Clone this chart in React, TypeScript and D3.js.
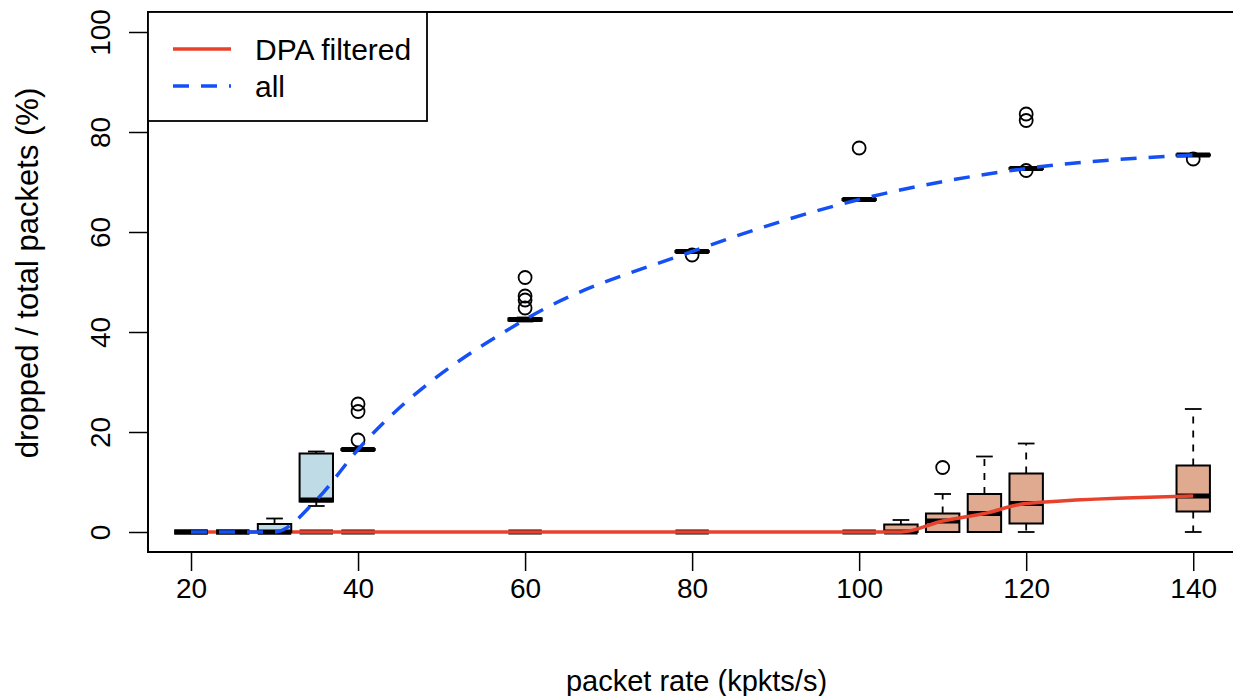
import React, { useEffect, useRef } from 'react';
import * as d3 from 'd3';

const width = 1233;
const height = 696;

// plot frame (R draws the box past the right edge of the picture)
const frame = { left: 148, right: 1245, top: 12, bottom: 552 };

// boxplot stats for "all" packets
const allAt = [20, 25, 30, 35, 40, 60, 80, 100, 120, 140];
const allLow = [0, 0, 0, 5.2, 16.3, 42.1, 55.9, 66.4, 72.6, 75.3];
const allQ1 = [0, 0, 0, 6.1, 16.4, 42.3, 56.0, 66.4, 72.6, 75.3];
const allMed = [0, 0, 0, 6.4, 16.5, 42.5, 56.1, 66.5, 72.7, 75.4];
const allQ3 = [0, 0, 1.6, 15.7, 16.6, 42.7, 56.2, 66.6, 72.8, 75.5];
const allHigh = [0, 0, 2.7, 16.1, 16.7, 42.9, 56.3, 66.7, 72.9, 75.6];
const allOut = [[], [], [], [], [18.4, 24.1, 25.6], [44.8, 46.4, 47.2, 50.9], [55.4], [76.8], [72.3, 82.3, 83.6], [74.6]];

// boxplot stats for "DPA filtered"
const dpaAt = [20, 25, 30, 35, 40, 60, 80, 100, 105, 110, 115, 120, 140];
const dpaLow = [0, 0, 0, 0, 0, 0, 0, 0, 0, 0, 0, 0, 0];
const dpaQ1 = [0, 0, 0, 0, 0, 0, 0, 0, 0, 0, 0, 1.7, 4.1];
const dpaMed = [0, 0, 0, 0, 0, 0, 0, 0, 0, 2.2, 3.7, 5.7, 7.2];
const dpaQ3 = [0, 0, 0, 0, 0, 0, 0, 0, 1.5, 3.7, 7.6, 11.7, 13.3];
const dpaHigh = [0, 0, 0, 0, 0, 0, 0, 0, 2.4, 7.6, 15.1, 17.7, 24.6];
const dpaOut = [[], [], [], [], [], [], [], [], [], [12.9], [], [], []];

const xTicks = [20, 40, 60, 80, 100, 120, 140];
const yTicks = [0, 20, 40, 60, 80, 100];
const legendLabels = ['DPA filtered', 'all'];

const red = '#e8412c';
const blue = '#1550f4';
const font = '"Liberation Sans", Arial, Helvetica, sans-serif';

export default function App() {
    const ref = useRef<SVGSVGElement>(null);

    useEffect(() => {
        document.body.style.margin = '0';
        const svg = d3.select(ref.current);
        svg.selectAll('*').remove();

        const x = d3.scaleLinear().domain([14.85, 146.2]).range([frame.left, frame.right]);
        const y = d3.scaleLinear().domain([-4, 104]).range([frame.bottom, frame.top]);
        const hw = (x(22) - x(20)); // half box width

        const drawBoxes = (at, lo, q1, med, q3, hi, out, fill) => {
            const g = svg.append('g');
            at.forEach((v, i) => {
                const cx = x(v);
                // whiskers
                [[q3[i], hi[i]], [q1[i], lo[i]]].forEach(([a, b]) => {
                    g.append('line')
                        .attr('x1', cx).attr('x2', cx)
                        .attr('y1', y(a)).attr('y2', y(b))
                        .style('stroke', '#000').style('stroke-width', 1.8)
                        .style('stroke-dasharray', '7,7');
                    g.append('line')
                        .attr('x1', cx - hw / 2).attr('x2', cx + hw / 2)
                        .attr('y1', y(b)).attr('y2', y(b))
                        .style('stroke', '#000').style('stroke-width', 1.8);
                });
                g.append('rect')
                    .attr('x', cx - hw).attr('width', hw * 2)
                    .attr('y', y(q3[i])).attr('height', y(q1[i]) - y(q3[i]))
                    .style('fill', fill).style('stroke', '#000').style('stroke-width', 2);
                g.append('line')
                    .attr('x1', cx - hw).attr('x2', cx + hw)
                    .attr('y1', y(med[i])).attr('y2', y(med[i]))
                    .style('stroke', '#000').style('stroke-width', 5);
                out[i].forEach(o => {
                    g.append('circle')
                        .attr('cx', cx).attr('cy', y(o)).attr('r', 6.5)
                        .style('fill', 'none').style('stroke', '#000').style('stroke-width', 1.8);
                });
            });
        };

        const line = d3.line<number>()
            .curve(d3.curveMonotoneX);

        // DPA filtered boxes + line
        drawBoxes(dpaAt, dpaLow, dpaQ1, dpaMed, dpaQ3, dpaHigh, dpaOut, '#e0aa90');
        svg.append('path')
            .attr('d', line.x((d, i) => x(dpaAt[i])).y(d => y(d))(dpaMed))
            .style('fill', 'none').style('stroke', red).style('stroke-width', 3.5);

        // all boxes + line
        drawBoxes(allAt, allLow, allQ1, allMed, allQ3, allHigh, allOut, '#bedbe6');
        svg.append('path')
            .attr('d', line.x((d, i) => x(allAt[i])).y(d => y(d))(allMed))
            .style('fill', 'none').style('stroke', blue).style('stroke-width', 3.5)
            .style('stroke-dasharray', '16,12');

        // frame
        svg.append('rect')
            .attr('x', frame.left).attr('y', frame.top)
            .attr('width', frame.right - frame.left).attr('height', frame.bottom - frame.top)
            .style('fill', 'none').style('stroke', '#000').style('stroke-width', 2);

        // AXES
        const axisX = svg.append('g')
            .attr('transform', `translate(0, ${frame.bottom})`)
            .call(d3.axisBottom(x).tickValues(xTicks).tickSize(19).tickFormat(d3.format('d')));
        axisX.select('.domain').remove();
        axisX.selectAll('line').style('stroke-width', 1.5);
        axisX.selectAll('text')
            .attr('y', 36).attr('dy', '0.35em')
            .style('font-family', font).style('font-size', '28px').style('fill', '#000');

        const axisY = svg.append('g')
            .attr('transform', `translate(${frame.left}, 0)`)
            .call(d3.axisLeft(y).tickValues(yTicks).tickSize(19).tickFormat(d3.format('d')));
        axisY.select('.domain').remove();
        axisY.selectAll('line').style('stroke-width', 1.5);
        axisY.selectAll('text')
            .attr('x', null).attr('dy', '0.35em')
            .attr('transform', 'translate(-48, 0) rotate(-90)')
            .attr('text-anchor', 'middle')
            .style('font-family', font).style('font-size', '28px').style('fill', '#000');

        svg.append('text')
            .attr('x', (frame.left + frame.right) / 2).attr('y', 681).attr('dy', '0.35em')
            .attr('text-anchor', 'middle')
            .style('font-family', font).style('font-size', '29px')
            .text('packet rate (kpkts/s)');

        svg.append('text')
            .attr('transform', 'translate(27, 273) rotate(-90)')
            .attr('dy', '0.35em')
            .attr('text-anchor', 'middle')
            .style('font-family', font).style('font-size', '31px')
            .text('dropped / total packets (%)');

        // legend
        const lg = svg.append('g');
        lg.append('rect')
            .attr('x', frame.left).attr('y', frame.top).attr('width', 279).attr('height', 109)
            .style('fill', '#fff').style('stroke', '#000').style('stroke-width', 1.8);
        legendLabels.forEach((label, i) => {
            const ly = 49 + i * 37;
            lg.append('line')
                .attr('x1', 173).attr('x2', 231).attr('y1', ly).attr('y2', ly)
                .style('stroke', i === 0 ? red : blue).style('stroke-width', 3.5)
                .style('stroke-dasharray', i === 0 ? null : '16,12');
            lg.append('text')
                .attr('x', 255).attr('y', ly).attr('dy', '0.35em')
                .style('font-family', font).style('font-size', '30px')
                .text(label);
        });
    }, []);

    return <svg ref={ref} width={width} height={height} style={{ display: 'block', background: '#fff' }} />;
}
